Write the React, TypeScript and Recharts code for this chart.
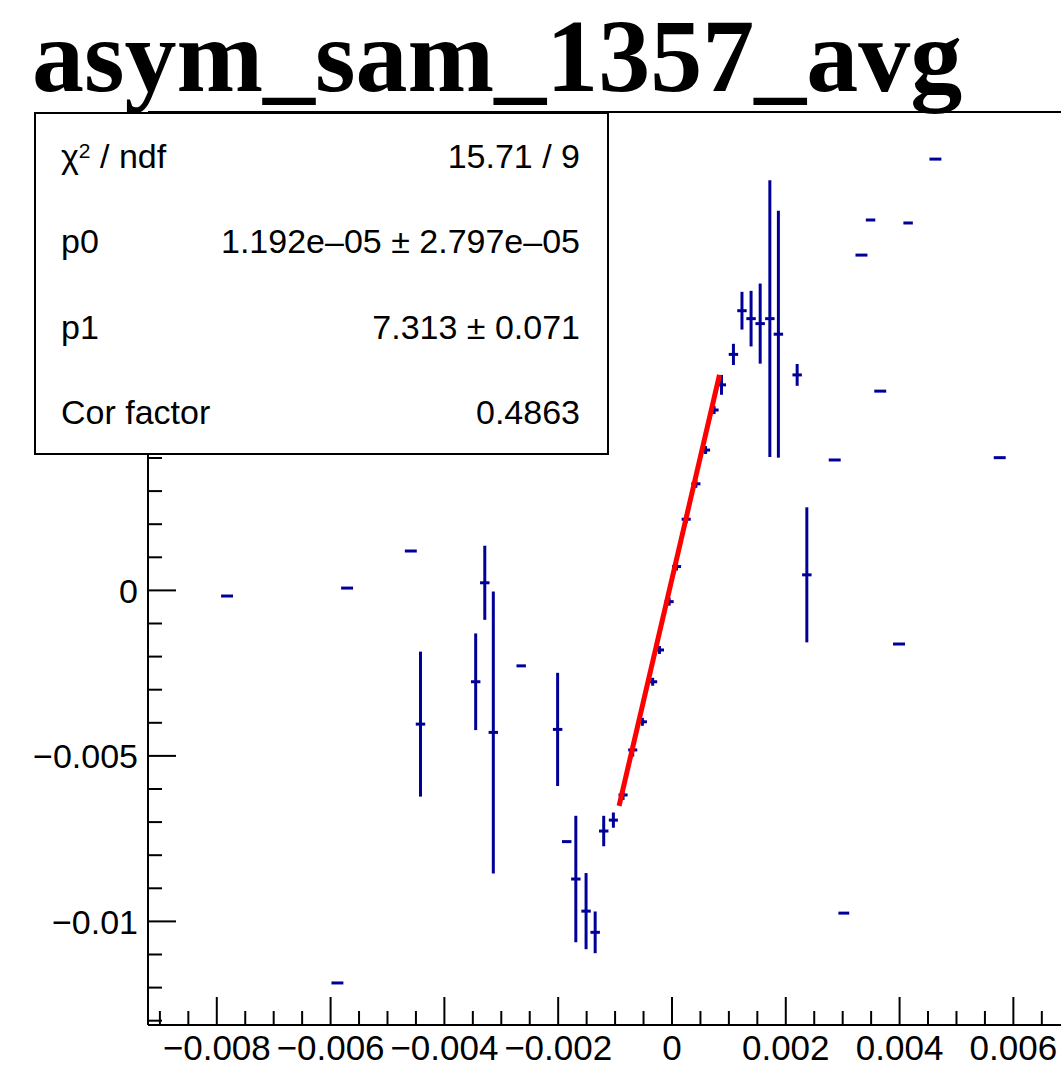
import React from "react";
import { ScatterChart, Scatter, XAxis, YAxis, ErrorBar, ReferenceLine } from "recharts";

// ---- data ----
const X_VALUES = [
  -0.00782, -0.00571, -0.00588, -0.00459, -0.00442, -0.00345, -0.00329, -0.00314, -0.00265, -0.00201,
  -0.00185, -0.00169, -0.00151, -0.00135, -0.0012, -0.00103, -0.00086, -0.00069, -0.00052, -0.00034,
  -0.00022, -0.00005, 0.00008, 0.00025, 0.00042, 0.00059, 0.00074, 0.00087, 0.00108, 0.00123,
  0.00139, 0.00155, 0.00172, 0.00187, 0.0022, 0.00237, 0.00286, 0.00302, 0.00333, 0.00349,
  0.00366, 0.00399, 0.00415, 0.00463, 0.00576,
];
const Y_VALUES = [
  -0.00017, 0.00007, -0.01186, 0.00119, -0.00404, -0.00276, 0.00023, -0.00429, -0.00228, -0.0042,
  -0.00759, -0.00872, -0.00969, -0.01033, -0.00727, -0.00694, -0.00618, -0.00482, -0.00397, -0.00276,
  -0.0018, -0.00034, 0.00072, 0.00215, 0.00322, 0.00424, 0.00545, 0.00621, 0.00713, 0.00845,
  0.00821, 0.00806, 0.00821, 0.00774, 0.00651, 0.00047, 0.00394, -0.00975, 0.01013, 0.01119,
  0.00602, -0.00162, 0.0111, 0.01303, 0.00401,
];
const Y_ERRORS = [
  0, 0, 0, 0, 0.00219, 0.00146, 0.00112, 0.00426, 0, 0.00171,
  0, 0.00191, 0.00115, 0.00063, 0.00046, 0.00023, 0.00015, 0.0002, 0.00012, 0.00012,
  0.00012, 0.00012, 0.00012, 0.00012, 0.00012, 0.00012, 0.00012, 0.0003, 0.00032, 0.00057,
  0.00084, 0.00121, 0.00418, 0.00373, 0.00033, 0.00204, 0, 0, 0, 0,
  0, 0, 0, 0, 0,
];
const X_ERRORS = [
  0.000105, 0.000105, 0.000105, 0.000105, 0.000083, 0.000083, 0.000083, 0.000083, 0.000083, 0.000083,
  0.000083, 0.000083, 0.000083, 0.000083, 0.000083, 0.00008, 0.00008, 0.00008, 0.00008, 0.00008,
  0.00008, 0.00008, 0.00008, 0.00008, 0.00008, 0.00008, 0.00008, 0.00008, 0.000083, 0.000083,
  0.000083, 0.000083, 0.000083, 0.000083, 0.000083, 0.000083, 0.000105, 0.000095, 0.000105, 0.000083,
  0.000105, 0.000105, 0.000083, 0.000105, 0.000105,
];

// fit line end points (pol1 fit drawn in red)
const FIT_X = [-0.00093, 0.000835];
const FIT_Y = [-0.00651, 0.00651];

// axes
const X_MIN = -0.009209;
const X_MAX = 0.006837;
const Y_MIN = -0.01313;
const Y_MAX = 0.014453;

const X_MAJOR = [-0.008, -0.006, -0.004, -0.002, 0, 0.002, 0.004, 0.006];
const X_LABELS = ["\u22120.008", "\u22120.006", "\u22120.004", "\u22120.002", "0", "0.002", "0.004", "0.006"];
const X_MINOR = [
  -0.009, -0.0085, -0.0075, -0.007, -0.0065, -0.0055, -0.005, -0.0045, -0.0035, -0.003, -0.0025,
  -0.0015, -0.001, -0.0005, 0.0005, 0.001, 0.0015, 0.0025, 0.003, 0.0035, 0.0045, 0.005, 0.0055, 0.0065,
];
// labels at 0.005 and 0.01 are hidden behind the stats box in the reference
const Y_MAJOR = [-0.01, -0.005, 0, 0.005, 0.01];
const Y_LABELS = ["\u22120.01", "\u22120.005", "0", "", ""];
const Y_MINOR = [
  -0.013, -0.012, -0.011, -0.009, -0.008, -0.007, -0.006, -0.004, -0.003, -0.002, -0.001,
  0.001, 0.002, 0.003, 0.004, 0.006, 0.007, 0.008, 0.009, 0.011, 0.012, 0.013, 0.014,
];

const TITLE = "asym_sam_1357_avg";
const STAT_ROWS = [
  { label: "p0", value: "1.192e\u201305 \u00b1 2.797e\u201305" },
  { label: "p1", value: "7.313 \u00b1 0.071" },
  { label: "Cor factor", value: "0.4863" },
];
const CHI_VALUE = "15.71 / 9";

const points = X_VALUES.map((x, i) => ({ x, y: Y_VALUES[i], ey: Y_ERRORS[i], ex: X_ERRORS[i] }));
const fitData = FIT_X.map((x, i) => ({ x, y: FIT_Y[i] }));

const BLUE = "#000099";
const SANS = "'Liberation Sans', Arial, Helvetica, sans-serif";
const SERIF = "'Liberation Serif', 'Times New Roman', serif";

const MAJOR_LEN = 28;
const MINOR_LEN = 14;
const TICK_MARGIN = 10;

const findIdx = (arr: number[], v: number) => arr.findIndex((m) => Math.abs(m - v) < 1e-9);

const XTick = (props: any) => {
  const { x, y, payload } = props;
  const v = payload.value;
  const idx = findIdx(X_MAJOR, v);
  const axisY = y - TICK_MARGIN;
  const len = idx >= 0 ? MAJOR_LEN : MINOR_LEN;
  return (
    <g>
      <line x1={x} x2={x} y1={axisY} y2={axisY - len} stroke="#000" strokeWidth={2} />
      {idx >= 0 && X_LABELS[idx] && (
        <text x={x} y={axisY + 34.5} textAnchor="middle" fontFamily={SANS} fontSize={35} fill="#000">
          {X_LABELS[idx]}
        </text>
      )}
    </g>
  );
};

const YTick = (props: any) => {
  const { x, y, payload } = props;
  const v = payload.value;
  const idx = findIdx(Y_MAJOR, v);
  const axisX = x + TICK_MARGIN;
  const len = idx >= 0 ? MAJOR_LEN : MINOR_LEN;
  return (
    <g>
      <line x1={axisX} x2={axisX + len} y1={y} y2={y} stroke="#000" strokeWidth={2} />
      {idx >= 0 && Y_LABELS[idx] && (
        <text x={x} y={y} dy="0.36em" textAnchor="end" fontFamily={SANS} fontSize={34} fill="#000">
          {Y_LABELS[idx]}
        </text>
      )}
    </g>
  );
};

const EmptyShape = () => <g />;

export default function App() {
  const xTicks = [...X_MAJOR, ...X_MINOR].sort((a, b) => a - b);
  const yTicks = [...Y_MAJOR, ...Y_MINOR].sort((a, b) => a - b);
  return (
    <div
      style={{
        position: "absolute",
        left: 0,
        top: 0,
        width: 1061,
        height: 1083,
        overflow: "hidden",
        background: "#fff",
      }}
    >
      <ScatterChart width={1061} height={1083} margin={{ top: 112, right: 0, bottom: 0, left: 0 }}>
        <XAxis
          type="number"
          dataKey="x"
          domain={[X_MIN, X_MAX]}
          allowDataOverflow
          ticks={xTicks}
          interval={0}
          tick={<XTick />}
          tickLine={false}
          tickSize={0}
          tickMargin={TICK_MARGIN}
          height={58}
          axisLine={{ stroke: "#000", strokeWidth: 2 }}
        />
        <YAxis
          type="number"
          dataKey="y"
          domain={[Y_MIN, Y_MAX]}
          allowDataOverflow
          ticks={yTicks}
          interval={0}
          tick={<YTick />}
          tickLine={false}
          tickSize={0}
          tickMargin={TICK_MARGIN}
          width={148}
          axisLine={{ stroke: "#000", strokeWidth: 2 }}
        />
        <ReferenceLine y={Y_MAX} stroke="#000" strokeWidth={2} />
        <Scatter data={points} shape={EmptyShape} fill={BLUE} isAnimationActive={false}>
          <ErrorBar dataKey="ey" direction="y" width={0} stroke={BLUE} strokeWidth={3} isAnimationActive={false} />
          <ErrorBar dataKey="ex" direction="x" width={0} stroke={BLUE} strokeWidth={3} isAnimationActive={false} />
        </Scatter>
        <Scatter
          data={fitData}
          shape={EmptyShape}
          fill="#ff0000"
          line={{ stroke: "#ff0000", strokeWidth: 5 }}
          isAnimationActive={false}
        />
      </ScatterChart>
      <svg
        width={1061}
        height={1083}
        style={{ position: "absolute", left: 0, top: 0, pointerEvents: "none" }}
      >
        <text x={32} y={91} fontFamily={SERIF} fontWeight="bold" fontSize={104} fill="#000">
          {TITLE}
        </text>
        <rect x={35} y={113} width={573} height={341} fill="#fff" stroke="#000" strokeWidth={2} />
        <text x={61} y={168} fontFamily={SANS} fontSize={34} fill="#000">
          <tspan>χ</tspan>
          <tspan dy={-10} fontSize={21}>2</tspan>
          <tspan dy={10}> / ndf</tspan>
        </text>
        <text x={580} y={168} textAnchor="end" fontFamily={SANS} fontSize={34} fill="#000">
          {CHI_VALUE}
        </text>
        {STAT_ROWS.map((r, i) => (
          <g key={r.label}>
            <text x={61} y={253 + i * 85.5} fontFamily={SANS} fontSize={34} fill="#000">
              {r.label}
            </text>
            <text x={580} y={253 + i * 85.5} textAnchor="end" fontFamily={SANS} fontSize={34} fill="#000">
              {r.value}
            </text>
          </g>
        ))}
      </svg>
    </div>
  );
}
